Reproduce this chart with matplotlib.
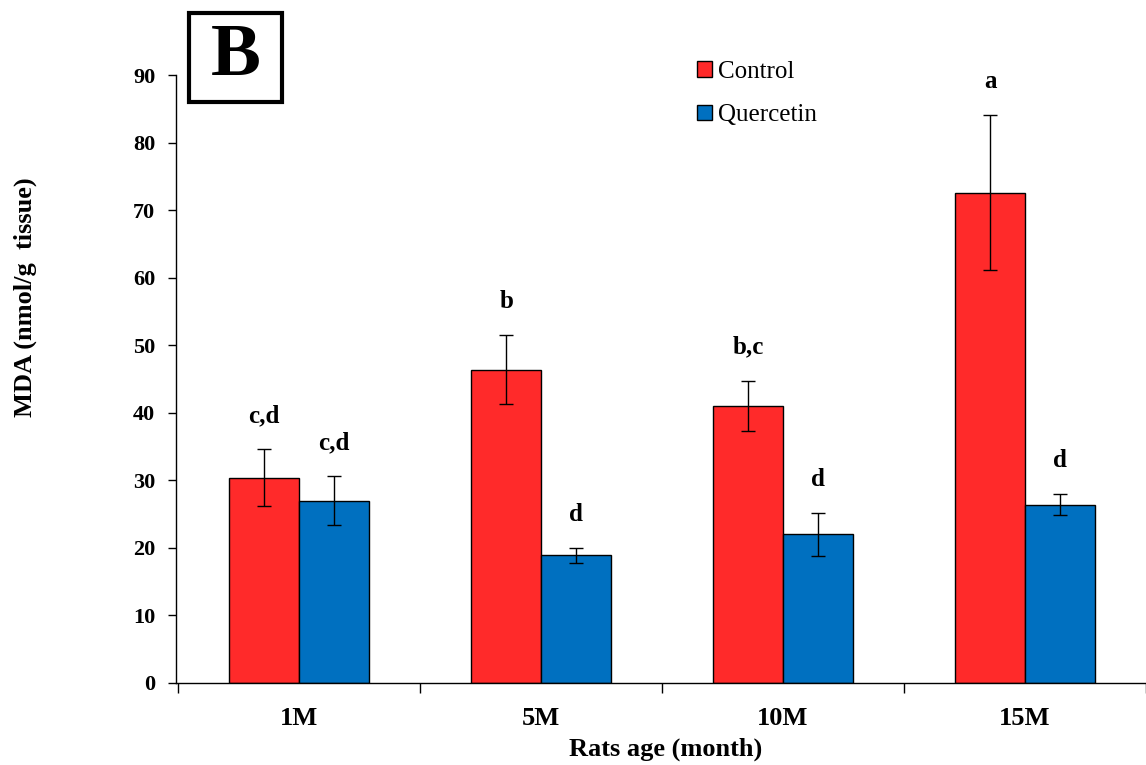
import numpy as np
import matplotlib
matplotlib.use("Agg")
import matplotlib.pyplot as plt
from matplotlib.patches import Rectangle

# data
ages = ["1M", "5M", "10M", "15M"]
control = [30.4, 46.4, 41.0, 72.6]
control_err = [4.2, 5.1, 3.7, 11.5]
quercetin = [27.0, 18.9, 22.0, 26.4]
quercetin_err = [3.6, 1.1, 3.2, 1.6]
control_letters = ["c,d", "b", "b,c", "a"]
quercetin_letters = ["c,d", "d", "d", "d"]

plt.rcParams['font.family'] = ['Liberation Serif', 'DejaVu Serif']

fig = plt.figure(figsize=(11.46, 7.65), dpi=100)
ax = fig.add_axes([176 / 1146, 82 / 765, 1 - 176 / 1146, 608 / 765])

x = np.arange(len(ages))
w = 0.288
red = "#FF2A2A"
blue = "#0070C0"

ax.bar(x - w / 2, control, w, color=red, edgecolor="black", linewidth=1, label="Control")
ax.bar(x + w / 2, quercetin, w, color=blue, edgecolor="black", linewidth=1, label="Quercetin")
ax.errorbar(x - w / 2, control, yerr=control_err, fmt="none", ecolor="black", elinewidth=1, capsize=5, capthick=1)
ax.errorbar(x + w / 2, quercetin, yerr=quercetin_err, fmt="none", ecolor="black", elinewidth=1, capsize=5, capthick=1)

# significance letters above the error bars
for i in range(len(ages)):
    ax.annotate(control_letters[i], (x[i] - w / 2, control[i] + control_err[i]),
                xytext=(0, 16), textcoords="offset points", ha="center", va="bottom",
                fontsize=18, fontweight="bold")
    ax.annotate(quercetin_letters[i], (x[i] + w / 2, quercetin[i] + quercetin_err[i]),
                xytext=(0, 16), textcoords="offset points", ha="center", va="bottom",
                fontsize=18, fontweight="bold")

ax.set_ylim(0, 90)
ax.set_yticks(np.arange(0, 91, 10))
ax.set_xlim(-0.508, -0.5 + (1146 - 178) / 244.0)
ax.set_xticks(x)
ax.set_xticks(np.arange(-0.5, 4, 1), minor=True)
ax.tick_params(axis="x", which="major", length=0, pad=17)
ax.tick_params(axis="x", which="minor", length=7, direction="out", width=1)
ax.tick_params(axis="y", length=6, width=1, pad=9)
ax.set_xticklabels(ages, fontsize=19, fontweight="bold")
for lab in ax.get_yticklabels():
    lab.set_fontsize(16)
    lab.set_fontweight("bold")

for s in ["top", "right"]:
    ax.spines[s].set_visible(False)
ax.spines["left"].set_linewidth(1)
ax.spines["bottom"].set_linewidth(1)

ax.set_ylabel("MDA (nmol/g  tissue)", fontsize=19, fontweight="bold")
ax.yaxis.label.set_va("center")
ax.yaxis.set_label_coords(-0.155, 0.635)
ax.set_xlabel("Rats age (month)", fontsize=19, fontweight="bold")
ax.xaxis.set_label_coords(0.505, -0.09)

ax.legend(loc="upper left", bbox_to_anchor=(0.514, 1.06), frameon=False, fontsize=18,
          handlelength=0.6, handleheight=0.6, handletextpad=0.25, labelspacing=0.85)

# panel letter in a box
fig.patches.append(Rectangle((189 / 1146, 1 - 102 / 765), 93 / 1146, 89 / 765,
                             transform=fig.transFigure, facecolor="white",
                             edgecolor="black", linewidth=3))
fig.text(236 / 1146, 1 - 57 / 765, "B", fontsize=54, fontweight="bold", ha="center", va="center")

fig.savefig("out.png", dpi=100)
